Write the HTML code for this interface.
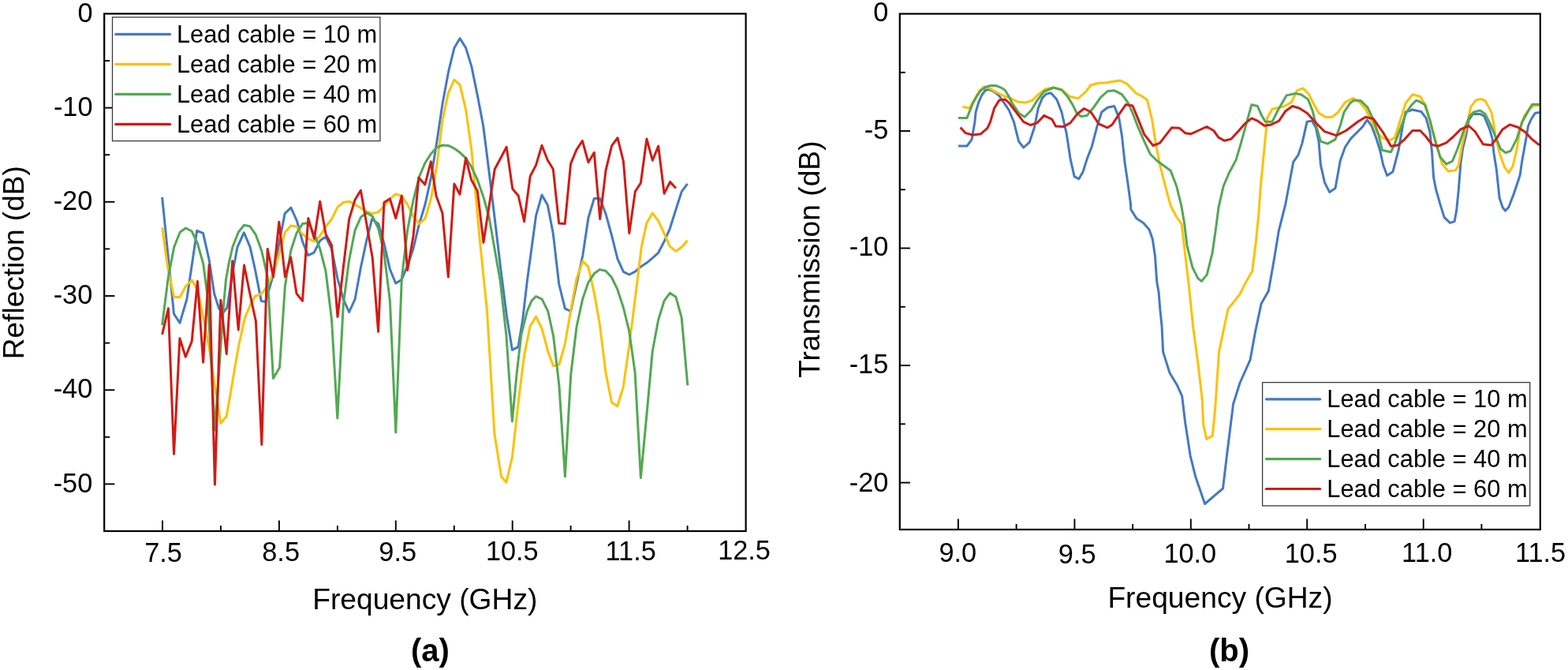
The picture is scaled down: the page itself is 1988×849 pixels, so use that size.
<!DOCTYPE html>
<html><head><meta charset="utf-8"><title>Reflection and Transmission vs Frequency</title>
<style>html,body{margin:0;padding:0;background:#fff;}body{width:1988px;height:849px;overflow:hidden;}svg{display:block;}</style>
</head><body>
<svg width="1988" height="849" viewBox="0 0 1988 849" font-family="'Liberation Sans', Arial, sans-serif" fill="#000">
<rect width="1988" height="849" fill="#fff"/>
<line x1="206.0" y1="673.0" x2="206.0" y2="659.5" stroke="#000" stroke-width="1.9"/>
<text x="207.07" y="711.89" font-size="34.3" text-anchor="middle">7.5</text>
<line x1="279.9" y1="673.0" x2="279.9" y2="666.0" stroke="#000" stroke-width="1.9"/>
<line x1="353.9" y1="673.0" x2="353.9" y2="659.5" stroke="#000" stroke-width="1.9"/>
<text x="356.14" y="711.17" font-size="34.3" text-anchor="middle">8.5</text>
<line x1="427.9" y1="673.0" x2="427.9" y2="666.0" stroke="#000" stroke-width="1.9"/>
<line x1="501.8" y1="673.0" x2="501.8" y2="659.5" stroke="#000" stroke-width="1.9"/>
<text x="504.20" y="711.20" font-size="34.3" text-anchor="middle">9.5</text>
<line x1="575.8" y1="673.0" x2="575.8" y2="666.0" stroke="#000" stroke-width="1.9"/>
<line x1="649.7" y1="673.0" x2="649.7" y2="659.5" stroke="#000" stroke-width="1.9"/>
<text x="649.33" y="709.69" font-size="34.3" text-anchor="middle">10.5</text>
<line x1="723.6" y1="673.0" x2="723.6" y2="666.0" stroke="#000" stroke-width="1.9"/>
<line x1="797.6" y1="673.0" x2="797.6" y2="659.5" stroke="#000" stroke-width="1.9"/>
<text x="799.67" y="709.54" font-size="34.3" text-anchor="middle">11.5</text>
<line x1="871.6" y1="673.0" x2="871.6" y2="666.0" stroke="#000" stroke-width="1.9"/>
<text x="943.54" y="708.63" font-size="34.3" text-anchor="middle">12.5</text>
<text x="117.50" y="27.50" font-size="34.3" text-anchor="end">0</text>
<line x1="132.2" y1="77.0" x2="139.2" y2="77.0" stroke="#000" stroke-width="1.9"/>
<line x1="132.2" y1="136.6" x2="145.4" y2="136.6" stroke="#000" stroke-width="1.9"/>
<text x="117.50" y="146.65" font-size="34.3" text-anchor="end">-10</text>
<line x1="132.2" y1="196.2" x2="139.2" y2="196.2" stroke="#000" stroke-width="1.9"/>
<line x1="132.2" y1="255.8" x2="145.4" y2="255.8" stroke="#000" stroke-width="1.9"/>
<text x="117.28" y="265.75" font-size="34.3" text-anchor="end">-20</text>
<line x1="132.2" y1="315.4" x2="139.2" y2="315.4" stroke="#000" stroke-width="1.9"/>
<line x1="132.2" y1="375.0" x2="145.4" y2="375.0" stroke="#000" stroke-width="1.9"/>
<text x="117.28" y="385.05" font-size="34.3" text-anchor="end">-30</text>
<line x1="132.2" y1="434.6" x2="139.2" y2="434.6" stroke="#000" stroke-width="1.9"/>
<line x1="132.2" y1="494.2" x2="145.4" y2="494.2" stroke="#000" stroke-width="1.9"/>
<text x="117.28" y="504.13" font-size="34.3" text-anchor="end">-40</text>
<line x1="132.2" y1="553.8" x2="139.2" y2="553.8" stroke="#000" stroke-width="1.9"/>
<line x1="132.2" y1="613.4" x2="145.4" y2="613.4" stroke="#000" stroke-width="1.9"/>
<text x="117.28" y="623.93" font-size="34.3" text-anchor="end">-50</text>
<polyline points="205.6,249.9 220.5,397.9 228.0,409.2 236.9,379.0 249.7,292.3 257.5,295.4 265.2,329.6 271.6,372.0 277.5,390.8 282.7,396.7 288.1,389.6 294.0,350.8 301.0,313.1 309.3,294.7 317.1,313.1 323.4,341.3 331.2,381.4 336.4,382.6 345.8,350.8 353.4,310.7 361.1,270.6 368.9,263.1 376.5,280.1 383.5,306.0 390.6,323.7 398.1,320.1 405.9,304.8 413.0,300.0 420.4,315.4 428.0,353.1 435.3,379.0 442.6,395.5 450.1,379.0 457.4,339.0 465.0,303.6 471.6,277.7 479.8,283.6 486.9,308.3 494.4,341.3 501.7,359.0 509.3,354.3 516.6,336.6 523.9,315.4 531.4,284.2 538.9,259.5 546.3,226.0 553.5,181.8 561.1,131.0 568.3,92.2 575.8,61.1 583.1,48.6 590.6,60.6 597.9,84.4 605.3,120.6 612.7,159.5 620.1,218.0 627.6,280.0 634.9,341.3 642.4,400.2 649.4,443.4 657.0,439.6 662.6,405.7 668.3,356.6 679.5,273.7 687.0,247.0 694.4,260.1 701.3,296.0 708.7,360.0 716.4,391.1 723.7,394.4 731.0,359.8 738.9,323.2 745.9,276.2 753.3,251.5 760.7,251.5 768.1,271.3 775.6,298.5 783.0,328.2 790.4,344.3 797.8,348.0 805.0,344.3 812.4,338.0 819.9,333.1 827.3,326.9 834.7,320.3 842.1,305.9 849.3,289.8 856.7,266.3 864.2,242.8 871.6,232.9" fill="none" stroke="#4479c4" stroke-width="3" stroke-linejoin="round" stroke-linecap="butt"/>
<polyline points="205.6,288.3 212.7,339.0 220.5,376.2 228.0,376.7 235.5,362.5 243.3,355.0 250.4,367.3 257.4,400.2 265.0,440.0 272.5,490.0 279.8,536.2 287.2,527.6 302.2,440.0 310.5,402.6 317.5,386.1 323.4,375.5 331.7,372.0 339.2,362.5 346.5,346.0 353.8,322.5 361.4,294.2 368.7,286.0 376.0,287.1 383.5,296.6 390.8,302.4 398.4,306.0 405.7,298.9 413.0,287.1 420.5,277.7 428.0,262.4 435.3,256.5 442.6,255.3 450.1,258.9 457.4,263.6 465.0,268.3 472.3,270.6 479.6,268.7 486.9,261.2 494.4,251.8 501.7,245.9 509.3,248.2 516.6,258.9 523.9,274.2 531.4,283.6 538.9,277.2 546.3,252.5 553.5,211.8 561.1,151.7 568.3,118.1 575.8,101.2 583.1,107.7 590.6,138.8 597.9,190.6 607.9,300.0 617.5,394.0 626.8,549.0 635.5,603.8 641.9,611.3 649.4,579.2 657.0,511.3 664.5,450.9 672.1,413.2 679.6,401.1 687.2,417.0 694.7,445.3 701.6,463.7 708.9,462.0 716.4,435.6 723.7,392.8 731.0,353.2 738.9,330.7 745.9,338.1 753.7,373.0 760.6,412.5 767.9,471.9 775.5,509.8 782.7,514.8 790.3,490.0 797.6,438.9 805.1,379.6 813.2,313.3 819.9,282.4 827.3,270.0 834.7,279.9 842.1,296.0 849.3,312.1 856.7,318.3 864.2,313.3 871.6,304.7" fill="none" stroke="#ffc000" stroke-width="3" stroke-linejoin="round" stroke-linecap="butt"/>
<polyline points="205.6,412.0 213.4,350.8 220.7,313.0 228.2,294.2 235.5,289.0 243.1,293.0 250.4,308.3 257.7,334.3 263.3,376.7 272.4,545.0 279.8,440.0 283.4,388.0 286.5,354.0 290.3,333.0 294.9,313.0 302.2,294.2 309.5,285.2 316.8,286.7 324.4,297.7 331.7,317.8 339.2,350.8 346.4,479.4 354.5,465.7 361.4,362.5 368.7,317.8 376.0,295.4 383.5,283.6 390.8,282.4 398.4,296.6 405.7,315.4 413.0,343.7 420.5,405.0 427.8,530.0 435.3,386.1 442.6,329.5 450.1,291.8 457.4,275.3 465.0,269.5 472.3,274.2 479.6,289.5 486.9,320.1 494.4,381.4 501.8,547.9 509.3,353.1 516.6,291.8 523.9,254.1 531.4,224.2 538.9,206.5 546.3,195.0 553.5,187.1 561.0,183.9 568.4,184.4 575.8,188.0 583.2,193.3 590.6,200.3 597.9,211.8 605.3,227.7 612.7,248.9 620.1,275.4 634.3,356.6 641.9,424.5 649.4,534.0 655.1,473.6 660.8,424.5 668.3,394.3 674.0,381.1 679.6,375.5 687.2,379.2 694.7,394.3 701.6,425.7 708.9,488.4 716.4,603.8 723.7,475.2 731.0,414.2 738.5,379.6 745.8,358.1 753.4,346.6 760.6,341.6 767.9,343.3 775.5,351.5 782.7,366.4 790.3,389.5 797.6,419.1 805.1,471.9 812.4,605.4 820.0,524.7 827.2,445.5 834.5,405.9 842.1,381.2 849.3,371.3 856.9,376.3 864.2,402.6 871.8,488.4" fill="none" stroke="#52a852" stroke-width="3" stroke-linejoin="round" stroke-linecap="butt"/>
<polyline points="205.6,423.8 213.4,390.8 220.5,575.3 227.9,428.7 235.3,452.2 243.2,432.4 250.4,356.6 257.6,459.1 265.2,335.4 272.4,614.1 279.8,380.2 287.2,448.4 294.7,330.7 302.2,417.9 309.5,336.1 316.8,372.0 324.4,407.3 331.8,563.4 339.2,315.4 346.5,350.8 353.8,281.2 361.4,350.8 368.7,326.0 376.0,372.0 383.5,381.4 390.8,276.5 398.4,302.4 405.7,255.3 413.0,296.6 420.5,310.7 428.0,401.4 435.3,339.0 442.6,277.7 450.1,253.0 457.4,241.2 472.3,327.2 479.6,420.3 486.9,256.5 494.4,251.8 501.7,276.5 509.3,248.2 516.6,342.5 524.0,299.0 530.9,225.1 538.9,233.9 546.3,204.8 553.0,248.0 560.9,270.1 568.3,350.9 575.9,233.0 583.0,246.3 590.6,200.3 597.5,227.7 605.3,241.9 613.0,307.2 627.2,214.5 642.2,186.2 649.8,239.2 657.2,248.0 664.6,280.7 672.2,223.3 679.5,209.4 687.0,184.2 694.4,203.2 701.3,214.3 708.7,283.1 716.2,283.6 723.6,207.4 731.0,189.6 738.4,178.5 745.9,205.7 753.3,193.3 760.7,277.5 768.1,215.6 775.6,184.6 783.0,174.7 790.4,204.4 797.8,295.5 805.3,242.8 812.4,231.7 819.9,176.0 827.3,203.2 834.7,185.1 842.1,245.3 849.6,230.4 857.0,238.6" fill="none" stroke="#d11b15" stroke-width="3" stroke-linejoin="round" stroke-linecap="butt"/>
<rect x="142.5" y="21.8" width="339.4" height="156.8" fill="#fff" stroke="#3a3a3a" stroke-width="1.3"/>
<line x1="146.7" y1="43.3" x2="215.5" y2="43.3" stroke="#4479c4" stroke-width="3.2" stroke-linecap="round"/>
<text x="223.9" y="53.8" font-size="30.8">Lead cable = 10 m</text>
<line x1="146.7" y1="81.3" x2="215.5" y2="81.3" stroke="#ffc000" stroke-width="3.2" stroke-linecap="round"/>
<text x="223.9" y="91.8" font-size="30.8">Lead cable = 20 m</text>
<line x1="146.7" y1="119.4" x2="215.5" y2="119.4" stroke="#52a852" stroke-width="3.2" stroke-linecap="round"/>
<text x="223.9" y="129.9" font-size="30.8">Lead cable = 40 m</text>
<line x1="146.7" y1="157.4" x2="215.5" y2="157.4" stroke="#d11b15" stroke-width="3.2" stroke-linecap="round"/>
<text x="223.9" y="167.9" font-size="30.8">Lead cable = 60 m</text>
<rect x="132.2" y="17.4" width="813.4" height="655.6" fill="none" stroke="#000" stroke-width="2.2"/>
<text x="538.8" y="772.2" font-size="37.2" text-anchor="middle">Frequency (GHz)</text>
<text transform="translate(30.1,332.7) rotate(-90)" font-size="37.1" text-anchor="middle">Reflection (dB)</text>
<text x="545.4" y="837.5" font-size="40" font-weight="bold" text-anchor="middle">(a)</text>
<line x1="1214.9" y1="671.0" x2="1214.9" y2="657.5" stroke="#000" stroke-width="1.9"/>
<text x="1214.24" y="712.38" font-size="34.3" text-anchor="middle">9.0</text>
<line x1="1288.6" y1="671.0" x2="1288.6" y2="664.0" stroke="#000" stroke-width="1.9"/>
<line x1="1362.4" y1="671.0" x2="1362.4" y2="657.5" stroke="#000" stroke-width="1.9"/>
<text x="1365.65" y="713.50" font-size="34.3" text-anchor="middle">9.5</text>
<line x1="1436.1" y1="671.0" x2="1436.1" y2="664.0" stroke="#000" stroke-width="1.9"/>
<line x1="1509.8" y1="671.0" x2="1509.8" y2="657.5" stroke="#000" stroke-width="1.9"/>
<text x="1508.78" y="712.70" font-size="34.3" text-anchor="middle">10.0</text>
<line x1="1583.5" y1="671.0" x2="1583.5" y2="664.0" stroke="#000" stroke-width="1.9"/>
<line x1="1657.2" y1="671.0" x2="1657.2" y2="657.5" stroke="#000" stroke-width="1.9"/>
<text x="1662.12" y="712.99" font-size="34.3" text-anchor="middle">10.5</text>
<line x1="1731.0" y1="671.0" x2="1731.0" y2="664.0" stroke="#000" stroke-width="1.9"/>
<line x1="1804.7" y1="671.0" x2="1804.7" y2="657.5" stroke="#000" stroke-width="1.9"/>
<text x="1809.23" y="712.37" font-size="34.3" text-anchor="middle">11.0</text>
<line x1="1878.4" y1="671.0" x2="1878.4" y2="664.0" stroke="#000" stroke-width="1.9"/>
<text x="1953.09" y="712.43" font-size="34.3" text-anchor="middle">11.5</text>
<text x="1126.43" y="27.20" font-size="34.3" text-anchor="end">0</text>
<line x1="1140.8" y1="91.8" x2="1147.8" y2="91.8" stroke="#000" stroke-width="1.9"/>
<line x1="1140.8" y1="166.0" x2="1154.0" y2="166.0" stroke="#000" stroke-width="1.9"/>
<text x="1126.24" y="175.76" font-size="34.3" text-anchor="end">-5</text>
<line x1="1140.8" y1="240.3" x2="1147.8" y2="240.3" stroke="#000" stroke-width="1.9"/>
<line x1="1140.8" y1="314.5" x2="1154.0" y2="314.5" stroke="#000" stroke-width="1.9"/>
<text x="1126.36" y="324.41" font-size="34.3" text-anchor="end">-10</text>
<line x1="1140.8" y1="388.8" x2="1147.8" y2="388.8" stroke="#000" stroke-width="1.9"/>
<line x1="1140.8" y1="463.1" x2="1154.0" y2="463.1" stroke="#000" stroke-width="1.9"/>
<text x="1126.24" y="473.47" font-size="34.3" text-anchor="end">-15</text>
<line x1="1140.8" y1="537.3" x2="1147.8" y2="537.3" stroke="#000" stroke-width="1.9"/>
<line x1="1140.8" y1="611.6" x2="1154.0" y2="611.6" stroke="#000" stroke-width="1.9"/>
<text x="1126.36" y="622.54" font-size="34.3" text-anchor="end">-20</text>
<polyline points="1215.0,185.0 1226.0,185.0 1232.1,176.6 1235.9,154.4 1237.1,142.0 1240.8,129.6 1244.5,121.0 1249.5,114.2 1254.4,113.5 1261.9,117.2 1267.4,122.2 1274.2,132.1 1279.2,139.5 1285.4,154.3 1291.6,179.1 1297.7,187.0 1305.2,180.3 1311.4,161.8 1316.3,137.0 1321.3,124.6 1326.2,119.2 1332.4,117.7 1339.8,125.9 1346.0,142.0 1352.2,169.2 1357.1,201.4 1362.1,223.6 1367.8,226.8 1373.2,217.4 1378.2,201.4 1384.4,185.3 1390.5,161.8 1396.7,142.0 1404.2,136.3 1412.8,134.5 1418.7,149.4 1422.4,171.7 1426.1,206.3 1429.8,231.1 1433.5,258.3 1433.8,265.5 1441.2,277.1 1449.7,282.4 1457.1,290.9 1461.4,303.6 1464.5,324.8 1466.7,356.6 1469.2,371.5 1470.9,392.7 1473.0,413.0 1474.6,445.9 1482.9,472.3 1492.8,488.8 1498.7,502.0 1502.6,535.0 1509.2,577.8 1515.8,604.2 1527.6,638.5 1539.4,628.3 1550.5,619.0 1555.4,577.8 1563.6,511.9 1571.9,485.5 1585.1,455.8 1591.7,419.6 1599.1,384.8 1608.3,368.8 1615.2,329.7 1621.2,292.9 1629.9,258.3 1639.8,205.1 1646.0,196.4 1650.9,181.6 1657.1,154.3 1663.3,153.1 1668.3,161.8 1672.0,179.1 1674.4,208.8 1679.4,231.1 1685.6,243.4 1693.0,238.5 1699.2,203.8 1705.4,186.5 1712.8,175.4 1721.5,166.7 1727.6,160.5 1733.3,151.9 1738.8,159.3 1745.0,175.4 1749.9,191.5 1753.6,208.8 1758.6,222.4 1766.0,217.4 1773.4,189.0 1778.4,159.3 1782.1,142.0 1790.8,139.0 1801.9,141.5 1808.1,149.6 1813.0,167.8 1815.6,193.7 1817.6,224.9 1820.7,240.4 1825.9,258.6 1831.1,275.4 1838.4,282.4 1844.1,280.6 1846.7,266.3 1849.3,240.4 1851.9,206.7 1854.5,188.5 1858.4,173.0 1862.2,152.2 1867.4,144.5 1876.5,144.5 1881.7,147.1 1888.2,162.6 1892.1,175.6 1893.9,193.7 1897.3,214.5 1901.1,250.8 1905.0,262.5 1908.4,267.1 1912.8,262.5 1919.3,245.6 1927.1,222.3 1929.7,204.1 1934.9,175.6 1937.4,160.0 1941.3,151.0 1946.5,143.2 1951.7,142.6" fill="none" stroke="#4479c4" stroke-width="3" stroke-linejoin="round" stroke-linecap="butt"/>
<polyline points="1220.2,135.3 1229.1,137.0 1238.3,121.0 1242.0,114.8 1247.6,109.8 1253.2,111.1 1259.4,114.8 1266.8,118.5 1274.2,122.2 1279.2,123.4 1290.3,129.1 1300.2,130.1 1308.9,127.1 1316.3,119.7 1325.0,113.0 1334.9,111.0 1346.0,113.5 1355.9,122.2 1367.0,124.6 1375.7,117.2 1383.1,107.8 1393.0,105.3 1402.9,104.8 1410.0,103.6 1419.9,101.9 1428.6,106.1 1434.7,112.3 1440.9,118.5 1448.4,122.2 1454.5,126.6 1460.7,151.9 1465.7,184.0 1470.6,208.8 1476.8,233.5 1484.2,260.7 1491.2,274.0 1498.1,283.8 1507.3,361.9 1512.5,413.0 1519.1,462.4 1524.1,505.3 1525.7,538.3 1529.7,556.4 1537.3,552.1 1540.6,518.5 1545.5,445.9 1557.0,391.5 1571.6,373.4 1578.5,359.6 1587.7,343.5 1592.3,306.7 1595.9,270.0 1598.1,238.5 1606.7,149.4 1612.9,138.3 1620.3,136.5 1627.4,135.0 1637.3,129.6 1644.7,114.7 1652.2,111.8 1659.6,119.7 1665.8,132.1 1672.0,143.2 1680.6,148.4 1689.3,148.2 1696.7,142.0 1705.4,129.6 1715.3,124.6 1723.9,129.6 1731.4,138.3 1738.8,153.0 1746.2,169.2 1753.6,175.4 1762.3,177.8 1768.5,174.1 1774.7,154.3 1782.1,130.8 1790.8,119.7 1800.6,122.2 1807.8,134.1 1814.3,160.0 1820.7,180.8 1828.5,208.0 1836.3,217.1 1845.4,215.8 1849.3,209.3 1853.2,186.0 1858.4,163.9 1864.8,135.4 1871.3,126.8 1877.8,125.5 1883.0,127.6 1890.8,141.9 1893.4,154.8 1896.0,173.0 1901.1,193.7 1907.6,211.9 1912.8,218.9 1918.0,210.6 1923.2,188.5 1927.1,165.2 1932.3,147.1 1940.0,136.7 1945.2,133.6 1951.7,133.6" fill="none" stroke="#ffc000" stroke-width="3" stroke-linejoin="round" stroke-linecap="butt"/>
<polyline points="1215.0,149.4 1226.0,149.4 1233.4,130.9 1238.3,122.2 1243.3,114.8 1249.5,110.5 1255.6,108.4 1263.1,108.6 1269.2,111.1 1274.2,114.2 1279.1,122.2 1284.1,132.1 1291.6,143.2 1299.0,148.2 1307.6,139.5 1315.1,127.1 1323.7,116.0 1336.1,111.0 1346.0,114.0 1353.4,122.2 1359.6,132.1 1365.8,144.4 1370.7,147.4 1378.2,146.4 1386.8,135.8 1395.5,123.4 1404.2,115.5 1412.8,114.7 1422.4,119.7 1429.8,129.6 1436.0,143.2 1442.2,159.3 1449.6,176.6 1458.3,195.2 1466.9,203.8 1475.6,210.0 1484.2,216.2 1491.7,236.0 1497.8,260.7 1501.6,283.0 1505.0,311.3 1511.9,338.9 1518.8,352.7 1523.4,356.4 1530.2,348.1 1537.1,320.5 1541.7,288.4 1544.9,263.2 1551.1,236.0 1558.5,218.7 1567.1,202.6 1573.3,181.6 1580.8,154.3 1586.9,132.6 1594.4,134.5 1599.3,145.7 1604.3,154.3 1612.9,154.3 1620.3,139.5 1631.1,120.9 1642.3,118.5 1649.7,119.7 1658.4,125.9 1664.0,140.0 1669.5,161.8 1674.4,179.1 1683.1,182.1 1693.0,176.6 1699.2,159.3 1704.1,142.0 1711.6,130.8 1716.5,127.1 1725.2,127.6 1733.8,135.8 1741.3,151.9 1747.4,169.2 1752.4,190.2 1763.5,192.7 1768.5,181.6 1775.9,161.8 1783.3,142.0 1789.5,133.3 1795.7,127.1 1800.0,128.9 1806.5,132.8 1813.0,152.2 1819.5,178.2 1825.9,198.9 1833.7,208.0 1841.5,204.1 1848.0,188.5 1855.8,165.2 1863.5,147.1 1868.7,141.9 1876.5,140.0 1883.0,144.5 1889.5,157.4 1896.0,173.0 1902.4,188.5 1908.9,193.7 1915.4,191.1 1923.2,175.6 1929.7,154.8 1936.2,143.2 1942.6,132.3 1951.7,132.3" fill="none" stroke="#52a852" stroke-width="3" stroke-linejoin="round" stroke-linecap="butt"/>
<polyline points="1217.6,161.5 1224.1,168.6 1233.4,171.0 1243.3,169.8 1251.9,162.4 1255.6,154.4 1260.6,137.0 1266.8,127.1 1274.2,125.9 1279.1,130.2 1285.4,138.3 1297.7,154.3 1306.4,158.5 1315.1,155.6 1323.7,146.4 1333.6,151.1 1338.6,160.0 1348.5,160.5 1357.1,155.6 1365.8,144.4 1374.5,137.5 1383.1,142.0 1393.0,156.8 1404.2,161.8 1410.0,158.0 1417.4,146.9 1427.3,132.6 1436.0,134.0 1443.4,151.9 1450.8,170.4 1462.0,184.5 1470.6,181.1 1485.5,161.8 1495.4,162.3 1502.8,168.7 1510.2,169.7 1520.1,165.0 1530.0,160.5 1538.7,165.5 1544.9,174.1 1552.3,178.3 1561.0,176.1 1569.6,166.7 1578.3,156.8 1586.9,149.9 1594.4,153.1 1603.0,159.3 1611.7,158.0 1621.6,153.1 1629.9,140.7 1638.6,134.5 1647.2,137.0 1657.1,143.2 1669.5,156.8 1679.4,166.7 1694.2,171.7 1706.6,165.5 1721.5,154.3 1731.4,148.2 1741.3,150.6 1753.6,168.0 1763.5,185.3 1772.2,184.0 1780.8,176.6 1790.8,165.5 1800.6,165.5 1807.8,173.0 1815.6,183.4 1823.3,185.2 1833.7,180.8 1842.8,173.0 1851.9,163.9 1862.2,159.5 1870.0,166.5 1880.4,182.8 1890.8,183.9 1897.3,175.6 1905.0,163.9 1914.1,157.9 1924.5,161.3 1933.6,167.3 1941.3,175.6 1951.7,183.9" fill="none" stroke="#d11b15" stroke-width="3" stroke-linejoin="round" stroke-linecap="butt"/>
<rect x="1600.6" y="484.6" width="339.1" height="156.3" fill="#fff" stroke="#3a3a3a" stroke-width="1.3"/>
<line x1="1605.4" y1="505.8" x2="1673.7" y2="505.8" stroke="#4479c4" stroke-width="3.2" stroke-linecap="round"/>
<text x="1682.3" y="516.2" font-size="30.8">Lead cable = 10 m</text>
<line x1="1605.4" y1="543.7" x2="1673.7" y2="543.7" stroke="#ffc000" stroke-width="3.2" stroke-linecap="round"/>
<text x="1682.3" y="554.1" font-size="30.8">Lead cable = 20 m</text>
<line x1="1605.4" y1="581.6" x2="1673.7" y2="581.6" stroke="#52a852" stroke-width="3.2" stroke-linecap="round"/>
<text x="1682.3" y="592.0" font-size="30.8">Lead cable = 40 m</text>
<line x1="1605.4" y1="619.5" x2="1673.7" y2="619.5" stroke="#d11b15" stroke-width="3.2" stroke-linecap="round"/>
<text x="1682.3" y="629.9" font-size="30.8">Lead cable = 60 m</text>
<rect x="1140.8" y="17.5" width="812.0" height="653.5" fill="none" stroke="#000" stroke-width="2.2"/>
<text x="1547.0" y="770.2" font-size="37.2" text-anchor="middle">Frequency (GHz)</text>
<text transform="translate(1038.6,328.6) rotate(-90)" font-size="37.2" text-anchor="middle">Transmission (dB)</text>
<text x="1558.6" y="837.5" font-size="40" font-weight="bold" text-anchor="middle">(b)</text>
</svg>
</body></html>
